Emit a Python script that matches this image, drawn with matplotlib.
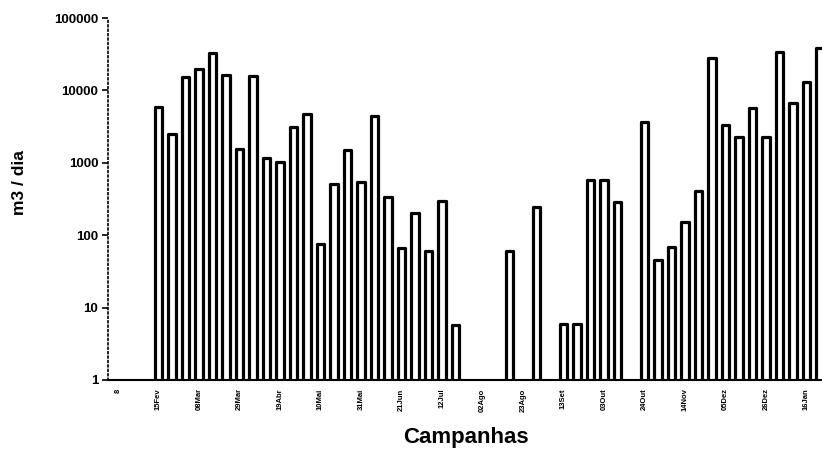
# plot.py
# Log-scale bar chart of daily flow per sampling campaign

import matplotlib
matplotlib.use("Agg")
import matplotlib.pyplot as plt
import numpy as np

plt.rcParams.update({
    "font.family": ["Liberation Sans", "DejaVu Sans"],
    "font.weight": "bold",
})

# one value per campaign (0 = no bar)
VALUES = [
    0, 0, 0, 5900, 2500, 15500, 20000, 32600, 16300, 1550,
    15900, 1170, 1020, 3150, 4700, 75, 510, 1500, 550, 4400,
    336, 67, 205, 61, 296, 5.7, 0, 0, 0, 61,
    0, 245, 0, 5.9, 5.9, 580, 580, 290, 0, 3700,
    45, 69, 154, 410, 28000, 3340, 2240, 5760, 2290, 34000,
    6600, 12900, 39000,
]
TICK_LABELS = [
    "8", "15Fev", "08Mar", "29Mar", "19Abr", "10Mai", "31Mai", "21Jun", "12Jul",
    "02Ago", "23Ago", "13Set", "03Out", "24Out", "14Nov", "05Dez", "26Dez", "16Jan",
]
YTICKS = [1, 10, 100, 1000, 10000, 100000]


def main():
    fig = plt.figure(figsize=(8.22, 4.55), dpi=100)
    ax = fig.add_axes([108 / 822, 75 / 455, 1 - 108 / 822, 362 / 455])

    vals = np.array(VALUES, dtype=float)
    x = np.arange(len(vals))
    mask = vals > 0
    bars = ax.bar(x[mask], vals[mask], bottom=0, width=0.56, color="white",
                  edgecolor="black", linewidth=2.3, log=True)
    for b in bars:
        b.set_joinstyle("round")

    ax.set_yscale("log")
    ax.set_ylim(1, 100000)
    ax.set_xlim(-0.74, 52.15)
    ax.set_yticks(YTICKS)
    ax.set_yticklabels([str(v) for v in YTICKS], fontsize=9.5, fontweight="bold")
    ax.yaxis.set_minor_locator(matplotlib.ticker.NullLocator())
    ax.tick_params(axis="y", length=4, width=1.2, pad=3)

    ax.set_xticks(x[::3])
    ax.set_xticklabels(TICK_LABELS, rotation=90, fontsize=5.5, fontweight="bold")
    ax.tick_params(axis="x", length=0, pad=6)

    for side in ("top", "right"):
        ax.spines[side].set_visible(False)
    ax.spines["left"].set_linestyle(":")
    ax.spines["left"].set_linewidth(1.2)
    ax.spines["bottom"].set_linewidth(1.5)

    fig.text(20 / 822, 1 - 183 / 455, "m3 / dia", rotation=90, ha="center",
             va="center", fontsize=12.5, fontweight="bold")
    fig.text(466 / 822, 1 - 437 / 455, "Campanhas", ha="center", va="center",
             fontsize=16, fontweight="bold")

    fig.savefig("out.png", dpi=100)
    plt.close(fig)


if __name__ == "__main__":
    main()
